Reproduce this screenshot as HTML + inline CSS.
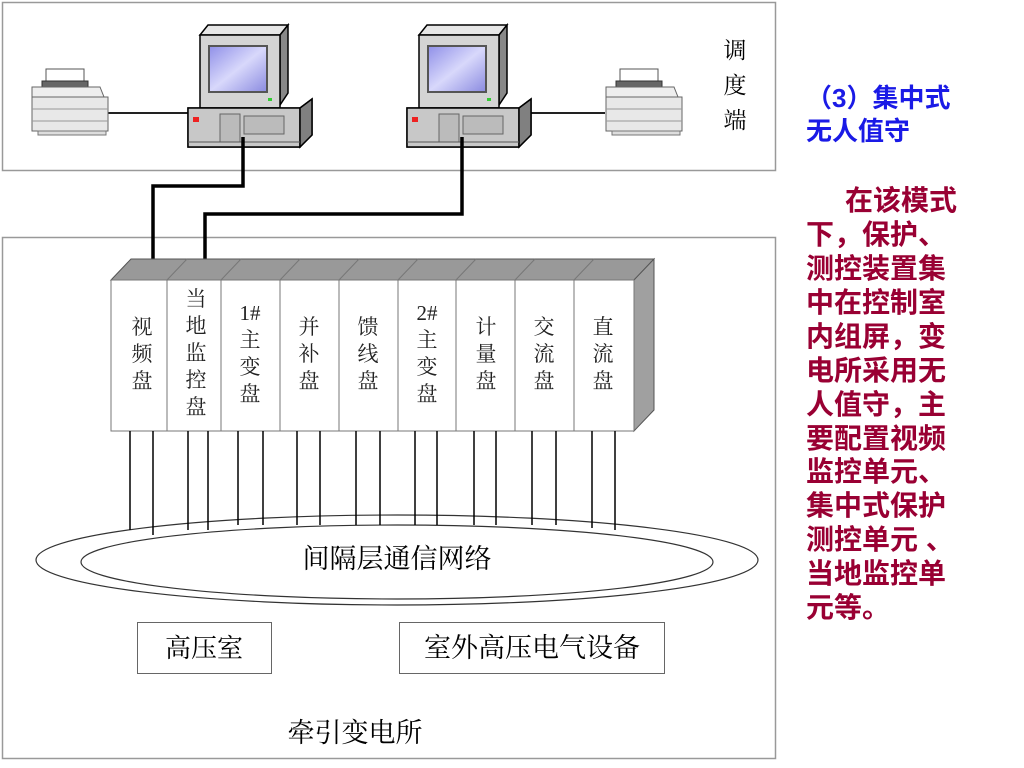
<!DOCTYPE html>
<html><head><meta charset="utf-8"><style>
html,body{margin:0;padding:0;background:#fff;width:1024px;height:768px;overflow:hidden}
svg text{font-family:"Liberation Serif","Noto Serif CJK SC",serif}
svg .s text{font-family:"Liberation Sans","Noto Sans CJK SC",sans-serif;font-weight:bold}
</style></head><body>
<svg width="1024" height="768" viewBox="0 0 1024 768" xmlns="http://www.w3.org/2000/svg">
<defs>
<linearGradient id="scr" x1="0" y1="0" x2="1" y2="1"><stop offset="0" stop-color="#8f8fe8"/><stop offset="0.5" stop-color="#d8d8fb"/><stop offset="1" stop-color="#8a8ae0"/></linearGradient>
<g id="pc">
<polygon points="0,0 80,0 88,-10 8,-10" fill="#e6e6e6" stroke="#000" stroke-width="1.5"/>
<polygon points="80,0 88,-10 88,58 80,70" fill="#888" stroke="#000" stroke-width="1.5"/>
<rect x="0" y="0" width="80" height="73" fill="#d4d4d4" stroke="#000" stroke-width="1.5"/>
<rect x="9" y="11" width="58" height="46" fill="url(#scr)" stroke="#555" stroke-width="2"/>
<rect x="68" y="63" width="4" height="3" fill="#3c3"/>
<polygon points="-12,73 100,73 112,64 112,100 100,112 -12,112" fill="#bbb" stroke="#000" stroke-width="1.5"/>
<rect x="-12" y="73" width="112" height="39" fill="#c8c8c8" stroke="#000" stroke-width="1.5"/>
<polygon points="100,73 112,64 112,100 100,112" fill="#808080" stroke="#000" stroke-width="1.5"/>
<rect x="-7" y="82" width="6" height="5" fill="#e22"/>
<rect x="20" y="79" width="20" height="28" fill="#bbb" stroke="#666"/>
<rect x="44" y="81" width="40" height="18" fill="#bbb" stroke="#666"/>
<line x1="-12" y1="107" x2="100" y2="107" stroke="#555"/>
</g>
<g id="pr">
<rect x="16" y="0" width="38" height="18" fill="#fff" stroke="#555"/>
<rect x="12" y="12" width="46" height="8" fill="#666" stroke="#333"/>
<polygon points="2,18 70,18 78,38 78,62 2,62" fill="#eee" stroke="#666"/>
<rect x="2" y="28" width="76" height="34" fill="#e8e8e8" stroke="#666"/>
<line x1="2" y1="40" x2="78" y2="40" stroke="#999"/>
<line x1="2" y1="52" x2="78" y2="52" stroke="#999"/>
<rect x="8" y="62" width="68" height="4" fill="#ddd" stroke="#777"/>
</g>
</defs>
<rect x="2.5" y="2.5" width="773" height="168" fill="#fff" stroke="#999" stroke-width="1.5"/>
<rect x="2.5" y="237.5" width="773" height="521" fill="#fff" stroke="#999" stroke-width="1.5"/>
<line x1="108" y1="113" x2="188" y2="113" stroke="#222" stroke-width="2"/>
<line x1="515" y1="113" x2="605" y2="113" stroke="#222" stroke-width="2"/>
<use href="#pr" x="30" y="69"/>
<use href="#pr" x="604" y="69"/>
<use href="#pc" x="200" y="35"/>
<use href="#pc" x="419" y="35"/>
<polyline points="243,137 243,186 153,186 153,260" fill="none" stroke="#000" stroke-width="3.5"/>
<polyline points="462,137 462,214 205,214 205,260" fill="none" stroke="#000" stroke-width="3.5"/>
<text x="735" y="58" font-size="23" text-anchor="middle">调</text>
<text x="735" y="93" font-size="23" text-anchor="middle">度</text>
<text x="735" y="128" font-size="23" text-anchor="middle">端</text>
<polygon points="111,280 131,259 654,259 634,280" fill="#999" stroke="#555"/>
<polygon points="634,280 654,259 654,410 634,431" fill="#a0a0a0" stroke="#555"/>
<rect x="111" y="280" width="523" height="151" fill="#fff" stroke="#777"/>
<g stroke="#777">
<line x1="167" y1="280" x2="167" y2="431"/><line x1="167" y1="280" x2="187" y2="259"/>
<line x1="221" y1="280" x2="221" y2="431"/><line x1="221" y1="280" x2="241" y2="259"/>
<line x1="280" y1="280" x2="280" y2="431"/><line x1="280" y1="280" x2="300" y2="259"/>
<line x1="339" y1="280" x2="339" y2="431"/><line x1="339" y1="280" x2="359" y2="259"/>
<line x1="398" y1="280" x2="398" y2="431"/><line x1="398" y1="280" x2="418" y2="259"/>
<line x1="456" y1="280" x2="456" y2="431"/><line x1="456" y1="280" x2="476" y2="259"/>
<line x1="515" y1="280" x2="515" y2="431"/><line x1="515" y1="280" x2="535" y2="259"/>
<line x1="574" y1="280" x2="574" y2="431"/><line x1="574" y1="280" x2="594" y2="259"/>
</g>
<g font-size="21" text-anchor="middle" fill="#222">
<text x="142" y="334">视</text><text x="142" y="361">频</text><text x="142" y="388">盘</text>
<text x="196" y="306">当</text><text x="196" y="333">地</text><text x="196" y="360">监</text><text x="196" y="387">控</text><text x="196" y="414">盘</text>
<text x="250" y="320">1#</text><text x="250" y="347">主</text><text x="250" y="374">变</text><text x="250" y="401">盘</text>
<text x="309" y="334">并</text><text x="309" y="361">补</text><text x="309" y="388">盘</text>
<text x="368" y="334">馈</text><text x="368" y="361">线</text><text x="368" y="388">盘</text>
<text x="427" y="320">2#</text><text x="427" y="347">主</text><text x="427" y="374">变</text><text x="427" y="401">盘</text>
<text x="486" y="334">计</text><text x="486" y="361">量</text><text x="486" y="388">盘</text>
<text x="544" y="334">交</text><text x="544" y="361">流</text><text x="544" y="388">盘</text>
<text x="603" y="334">直</text><text x="603" y="361">流</text><text x="603" y="388">盘</text>
</g>
<ellipse cx="397" cy="560" rx="361" ry="45" fill="none" stroke="#333" stroke-width="1.2"/>
<ellipse cx="397" cy="562" rx="316" ry="37" fill="none" stroke="#333" stroke-width="1.2"/>
<g stroke="#000" stroke-width="1.5">
<line x1="130" y1="431" x2="130" y2="530"/><line x1="153" y1="431" x2="153" y2="535"/>
<line x1="188" y1="431" x2="188" y2="530"/><line x1="208" y1="431" x2="208" y2="530"/>
<line x1="238" y1="431" x2="238" y2="525"/><line x1="263" y1="431" x2="263" y2="525"/>
<line x1="297" y1="431" x2="297" y2="525"/><line x1="320" y1="431" x2="320" y2="525"/>
<line x1="356" y1="431" x2="356" y2="525"/><line x1="380" y1="431" x2="380" y2="525"/>
<line x1="415" y1="431" x2="415" y2="525"/><line x1="437" y1="431" x2="437" y2="525"/>
<line x1="474" y1="431" x2="474" y2="525"/><line x1="496" y1="431" x2="496" y2="525"/>
<line x1="532" y1="431" x2="532" y2="525"/><line x1="556" y1="431" x2="556" y2="525"/>
<line x1="592" y1="431" x2="592" y2="528"/><line x1="615" y1="431" x2="615" y2="530"/>
</g>
<text x="397" y="568" font-size="27" text-anchor="middle">间隔层通信网络</text>
<rect x="137.5" y="622.5" width="134" height="51" fill="#fff" stroke="#666"/>
<text x="204" y="657" font-size="26" text-anchor="middle">高压室</text>
<rect x="399.5" y="622.5" width="265" height="51" fill="#fff" stroke="#666"/>
<text x="532" y="657" font-size="27" text-anchor="middle">室外高压电气设备</text>
<text x="355" y="742" font-size="27" text-anchor="middle">牵引变电所</text>
<g class="s" fill="#1a1ae6" font-size="26">
<text x="806" y="107">（3）集中式</text>
<text x="806" y="140">无人值守</text>
</g>
<g class="s" fill="#990033" font-size="28">
<text x="845" y="210">在该模式</text>
<text x="806" y="244">下，保护、</text>
<text x="806" y="278">测控装置集</text>
<text x="806" y="312">中在控制室</text>
<text x="806" y="346">内组屏，变</text>
<text x="806" y="380">电所采用无</text>
<text x="806" y="414">人值守，主</text>
<text x="806" y="448">要配置视频</text>
<text x="806" y="481">监控单元、</text>
<text x="806" y="515">集中式保护</text>
<text x="806" y="549">测控单元 、</text>
<text x="806" y="583">当地监控单</text>
<text x="806" y="617">元等。</text>
</g>
</svg>
</body></html>
